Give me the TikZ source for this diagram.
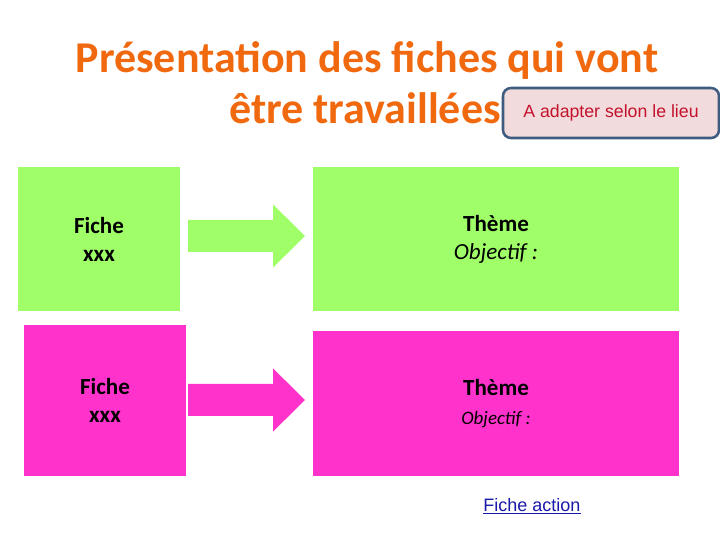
\documentclass[tikz,border=0pt]{standalone}
\usepackage{fontspec}
\usepackage{xcolor}
\usepackage{tikz}
\setmainfont{Carlito}
\newfontfamily\arialfont{Liberation Sans}
\definecolor{titleorange}{HTML}{F0690F}
\definecolor{ficheGreen}{HTML}{A0FF68}
\definecolor{fichePink}{HTML}{FF33CC}
\definecolor{noteFill}{HTML}{F2DBDC}
\definecolor{noteLine}{HTML}{3E5B80}
\definecolor{noteRed}{HTML}{C4122C}
\definecolor{linkBlue}{HTML}{1A1AA8}

\tikzset{
  ficheBox/.style={minimum width=4.05cm, inner sep=0pt, align=center,
    font=\fontsize{16.4}{19.9}\selectfont\bfseries},
  themeBox/.style={minimum width=9.15cm, inner sep=0pt, align=center,
    font=\fontsize{16.4}{19.9}\selectfont}
}

\begin{document}
\begin{tikzpicture}[scale=1.0]

% Page frame
\useasboundingbox (0,0) rectangle (18,13.5);

% Title
\node[anchor=base, text=titleorange, font=\fontsize{31.3}{37}\selectfont\bfseries] (title1) at (9.175,11.68) {Présentation des fiches qui vont};
\node[anchor=base, text=titleorange, font=\fontsize{31.3}{37}\selectfont\bfseries] (title2) at (9.125,10.4) {être travaillées};

% Note box
\node[draw=noteLine, line width=1.8pt, fill=noteFill, rounded corners=0.2cm,
  minimum width=5.4cm, minimum height=1.25cm, text=noteRed,
  font=\arialfont\fontsize{12.6}{14}\selectfont] (note) at (15.275,10.675) {A adapter selon le lieu};

% Row 1 (green)
\node[ficheBox, fill=ficheGreen, minimum height=3.6cm] (fiche1) at (2.475,7.525) {Fiche\\xxx};
\node[themeBox, fill=ficheGreen, minimum height=3.6cm] (theme1) at (12.4,7.525) {\textbf{Thème}\\\textit{Objectif :}};

% Row 2 (pink)
\node[ficheBox, fill=fichePink, minimum height=3.775cm] (fiche2) at (2.625,3.4875) {Fiche\\xxx};
\node[themeBox, fill=fichePink, minimum height=3.625cm] (theme2) at (12.4,3.4125) {\textbf{Thème}\\[1pt]{\fontsize{13.5}{16}\selectfont\textit{Objectif :}}};

% Block arrows
\foreach \y/\c in {7.6/ficheGreen,3.5/fichePink} {
  \fill[\c] (4.7,\y-0.4) -- (6.825,\y-0.4) -- (6.825,\y-0.79) -- (7.625,\y)
    -- (6.825,\y+0.79) -- (6.825,\y+0.4) -- (4.7,\y+0.4) -- cycle;
}

% Link
\node[text=linkBlue, font=\arialfont\fontsize{12.8}{15}\selectfont] (link) at (13.3,0.85) {\underline{Fiche action}};

\end{tikzpicture}
\end{document}
